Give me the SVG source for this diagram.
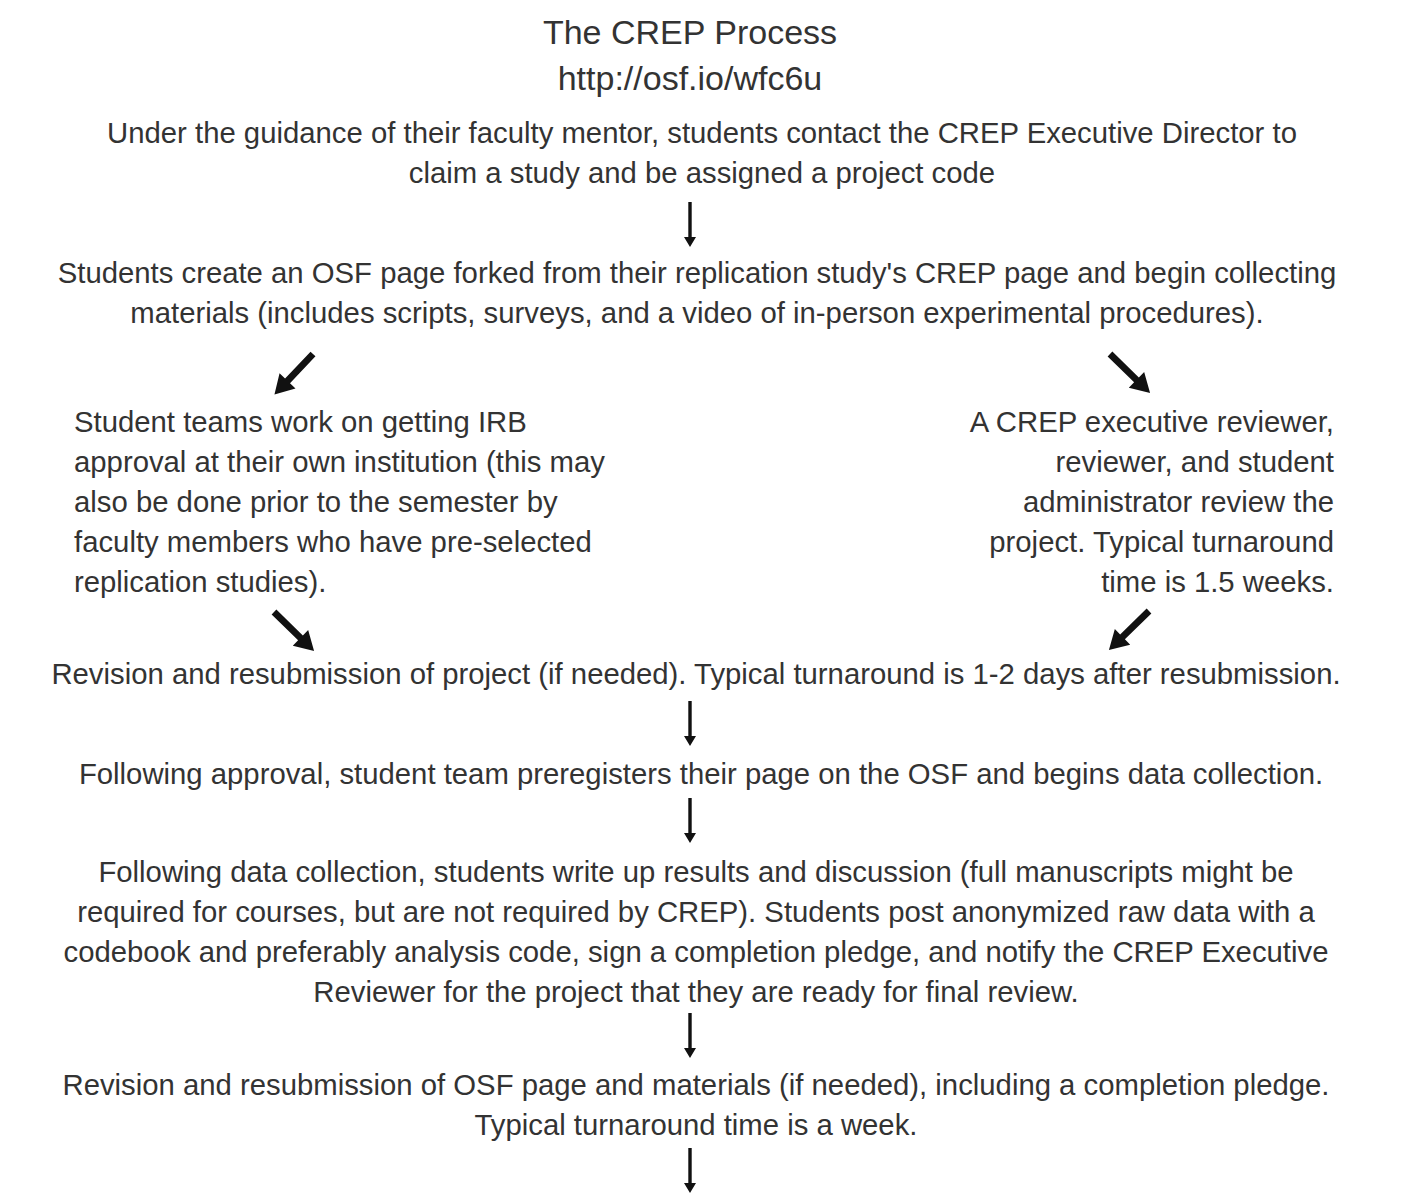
<svg xmlns="http://www.w3.org/2000/svg" xmlns:xlink="http://www.w3.org/1999/xlink" width="1408" height="1198" viewBox="0 0 1408 1198">
<style>
text{font-family:"Liberation Sans",Arial,sans-serif;fill:#333333;font-size:29.3px}
.title{font-size:34px}
.c{text-anchor:middle}
.r{text-anchor:end}
.ah{fill:#111111}
</style>
<defs>
<path id="varr" d="M0,-1.7 L35,-1.7 L35,-6 L45,0 L35,6 L35,1.7 L0,1.7 Z"/>
<path id="darr" d="M0,-3.4 L37,-3.4 L37,-11 L56,0 L37,11 L37,3.4 L0,3.4 Z"/>
</defs>
<rect width="1408" height="1198" fill="#ffffff"/>
<g id="title">
<text class="title c" x="690" y="44">The CREP Process</text>
<text class="title c" x="690" y="90">http://osf.io/wfc6u</text>
</g>
<g id="n1">
<text class="c" x="702" y="143">Under the guidance of their faculty mentor, students contact the CREP Executive Director to</text>
<text class="c" x="702" y="183">claim a study and be assigned a project code</text>
</g>
<g id="n2">
<text class="c" x="697" y="283">Students create an OSF page forked from their replication study's CREP page and begin collecting</text>
<text class="c" x="697" y="323">materials (includes scripts, surveys, and a video of in-person experimental procedures).</text>
</g>
<g id="n3">
<text x="74" y="432">Student teams work on getting IRB</text>
<text x="74" y="472">approval at their own institution (this may</text>
<text x="74" y="512">also be done prior to the semester by</text>
<text x="74" y="552">faculty members who have pre-selected</text>
<text x="74" y="592">replication studies).</text>
</g>
<g id="n4">
<text class="r" x="1334" y="432">A CREP executive reviewer,</text>
<text class="r" x="1334" y="472">reviewer, and student</text>
<text class="r" x="1334" y="512">administrator review the</text>
<text class="r" x="1334" y="552">project. Typical turnaround</text>
<text class="r" x="1334" y="592">time is 1.5 weeks.</text>
</g>
<g id="n5">
<text class="c" x="696" y="684">Revision and resubmission of project (if needed). Typical turnaround is 1-2 days after resubmission.</text>
</g>
<g id="n6">
<text class="c" x="701" y="784">Following approval, student team preregisters their page on the OSF and begins data collection.</text>
</g>
<g id="n7">
<text class="c" x="696" y="882">Following data collection, students write up results and discussion (full manuscripts might be</text>
<text class="c" x="696" y="922">required for courses, but are not required by CREP). Students post anonymized raw data with a</text>
<text class="c" x="696" y="962">codebook and preferably analysis code, sign a completion pledge, and notify the CREP Executive</text>
<text class="c" x="696" y="1002">Reviewer for the project that they are ready for final review.</text>
</g>
<g id="n8">
<text class="c" x="696" y="1095">Revision and resubmission of OSF page and materials (if needed), including a completion pledge.</text>
<text class="c" x="696" y="1135">Typical turnaround time is a week.</text>
</g>
<g id="connectors" class="ah">
<use xlink:href="#varr" transform="translate(690,202) rotate(90)"/>
<use xlink:href="#darr" transform="translate(313,354) rotate(133.5)"/>
<use xlink:href="#darr" transform="translate(1110,354) rotate(44.3)"/>
<use xlink:href="#darr" transform="translate(274,612) rotate(44.3)"/>
<use xlink:href="#darr" transform="translate(1149,611) rotate(135.7)"/>
<use xlink:href="#varr" transform="translate(690,701) rotate(90)"/>
<use xlink:href="#varr" transform="translate(690,798) rotate(90)"/>
<use xlink:href="#varr" transform="translate(690,1013) rotate(90)"/>
<use xlink:href="#varr" transform="translate(690,1148) rotate(90)"/>
</g>
</svg>
